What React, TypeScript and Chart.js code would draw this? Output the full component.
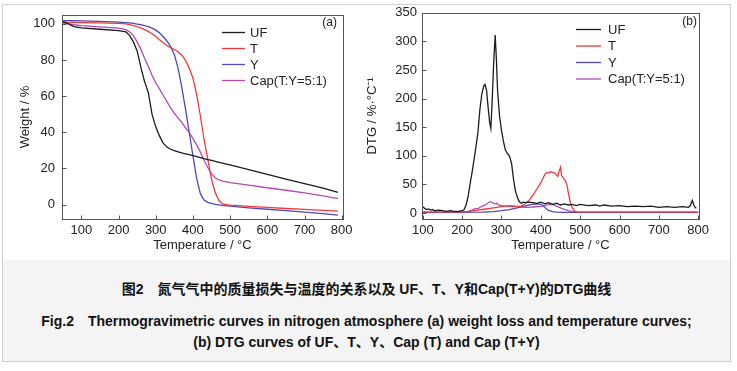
import React, { useEffect, useRef } from "react";
import { Chart, registerables } from "chart.js";
Chart.register(...registerables);

const FONT = "'Liberation Sans', Arial, Helvetica, sans-serif";

// ---------- Tick labels ----------
const tempTicks = [100, 200, 300, 400, 500, 600, 700, 800];
const weightTicks = [0, 20, 40, 60, 80, 100];
const dtgTicks = [0, 50, 100, 150, 200, 250, 300, 350];

const seriesNames = ["UF", "T", "Y", "Cap(T:Y=5:1)"];
const seriesColors = ["#1c1c1c", "#f03a3a", "#4a4ab8", "#b54ab5"];

// ---------- (a) TG curves ----------
const tgTemps = [50, 60, 80, 100, 150, 200, 220, 230, 240, 250, 260, 270, 280, 290, 300, 310, 320, 330, 340, 350, 360, 370, 380, 390, 400, 410, 420, 430, 440, 450, 460, 470, 480, 490, 500, 550, 600, 650, 700, 750, 790];
const tgUF = [101, 100.5, 98.5, 97.8, 97, 96.3, 95.5, 93.5, 90, 85, 76, 68, 62, 50, 43, 38, 34, 31.8, 30.6, 29.8, 29.2, 28.6, 28.1, 27.6, 27.1, 26.5, 26, 25.4, 24.9, 24.4, 23.9, 23.4, 22.9, 22.4, 21.9, 19.3, 16.7, 14.1, 11.6, 9.1, 6.8];
const tgT = [101.3, 101, 100.8, 100.7, 100.5, 100.3, 100, 99.5, 99, 98.5, 97.8, 96.8, 95.8, 94.5, 93, 91.2, 89.5, 88, 86.8, 85.8, 84.6, 82.8, 79.8, 75.5, 70, 61, 49, 36, 25, 14, 6.5, 2.2, 0.3, 0, -0.3, -1, -1.6, -2.2, -2.7, -3.2, -3.6];
const tgY = [101.8, 101.8, 101.7, 101.6, 101.4, 101, 100.7, 100.5, 100.2, 99.9, 99.5, 99, 98.4, 97.6, 96.5, 95, 93, 90.5, 87.5, 83, 75.5, 65, 53, 40, 27, 14.5, 6, 2.5, 1.2, 0.6, 0.1, -0.2, -0.5, -0.7, -0.9, -1.8, -2.6, -3.4, -4.2, -5, -5.8];
const tgCap = [100.5, 100.2, 99.5, 99, 98.3, 97.6, 96.8, 95.5, 93.5, 90, 86, 81, 76.5, 71.5, 67.5, 64, 60.5, 57, 53.5, 50.5, 48, 45.5, 42.5, 40, 36.5, 33, 29, 24.5, 20.5, 17, 14.8, 13.6, 12.9, 12.5, 12.1, 10.7, 9.3, 7.9, 6.4, 4.8, 3.3];

// ---------- (b) DTG curves ----------
const dtgUFTemps = [100, 105, 110, 115, 120, 125, 130, 140, 150, 160, 170, 180, 190, 200, 205, 210, 215, 220, 225, 230, 235, 240, 245, 250, 255, 258, 262, 266, 270, 273, 276, 280, 284, 287, 290, 295, 300, 305, 310, 315, 318, 322, 326, 330, 335, 340, 345, 350, 355, 360, 370, 380, 390, 400, 410, 420, 430, 440, 450, 460, 470, 480, 490, 500, 520, 540, 550, 560, 580, 600, 620, 640, 660, 680, 700, 720, 740, 760, 775, 780, 785, 790, 795];
const dtgUF = [11, 8, 6, 7, 5, 6, 4, 5, 4, 3, 4, 3, 3, 4, 6, 14, 28, 50, 70, 92, 115, 140, 180, 208, 222, 225, 215, 185, 158, 148, 190, 260, 311, 270, 215, 170, 145, 125, 110, 104, 102, 96, 85, 62, 40, 28, 20, 17, 19, 18, 19, 18, 17, 19, 16, 18, 15, 17, 14, 16, 14, 15, 13, 15, 13, 14, 12, 14, 12, 13, 11, 12, 11, 12, 10, 11, 10, 11, 10, 13, 22, 12, 8];

const dtgTTemps = [100, 200, 220, 240, 260, 280, 300, 310, 320, 330, 340, 350, 360, 370, 380, 390, 400, 405, 410, 415, 420, 425, 430, 435, 438, 443, 447, 450, 453, 458, 462, 466, 470, 475, 480, 485, 490, 500, 600, 700, 800];
const dtgT = [1.5, 2, 3, 5, 7, 9, 11, 12, 13, 12.5, 11, 12, 16, 22, 31, 42, 53, 60, 67, 71, 70, 72, 71, 70, 68, 64, 74, 80, 65, 60, 57, 50, 35, 18, 9, 4, 2, 1.5, 1.5, 1.5, 1.5];

const dtgYTemps = [100, 250, 280, 300, 320, 340, 360, 380, 390, 400, 405, 410, 415, 420, 430, 440, 460, 800];
const dtgY = [1, 1.5, 2.5, 4, 6, 9, 12.5, 15.5, 16, 15, 13, 10, 7, 4.5, 2.5, 1.5, 1, 1];

const dtgCapTemps = [100, 200, 215, 225, 235, 240, 245, 255, 265, 272, 277, 282, 288, 292, 300, 310, 320, 340, 360, 380, 400, 410, 420, 430, 440, 450, 460, 470, 480, 490, 500, 800];
const dtgCap = [1, 1.5, 3, 5, 8, 7, 10, 13, 17, 20, 18, 16, 17, 14, 13, 12, 11.5, 11, 10, 10.5, 11.5, 13, 15, 14.5, 12, 9, 6.5, 4, 2.5, 1.5, 1, 1];

function pts(xs: number[], ys: number[]) {
  return xs.map((x, i) => ({ x, y: ys[i] }));
}

const framePlugin = {
  id: "frame",
  afterDraw(chart: any, _args: any, opts: any) {
    const { ctx, chartArea: a } = chart;
    const xs = chart.scales.x;
    const ys = chart.scales.y;
    ctx.save();
    ctx.strokeStyle = "#555";
    ctx.lineWidth = 1;
    const L = Math.round(a.left) + 0.5;
    const T = Math.round(a.top) + 0.5;
    const R = Math.round(a.right) + 0.5;
    const B = Math.round(a.bottom) + 0.5;
    ctx.strokeRect(L, T, R - L, B - T);
    ctx.beginPath();
    xs.ticks.forEach((t: any) => {
      const px = Math.round(xs.getPixelForValue(t.value)) + 0.5;
      ctx.moveTo(px, B);
      ctx.lineTo(px, B - 4);
    });
    ys.ticks.forEach((t: any) => {
      const py = Math.round(ys.getPixelForValue(t.value)) + 0.5;
      ctx.moveTo(L, py);
      ctx.lineTo(L + 4, py);
    });
    ctx.stroke();

    // legend
    const lg = opts.legend;
    ctx.font = `13px ${FONT}`;
    ctx.textBaseline = "middle";
    ctx.textAlign = "left";
    chart.data.datasets.forEach((ds: any, i: number) => {
      const y = lg.y0 + i * lg.dy;
      ctx.strokeStyle = ds.borderColor;
      ctx.lineWidth = 1.3;
      ctx.beginPath();
      ctx.moveTo(lg.x0, y + 0.5);
      ctx.lineTo(lg.x1, y + 0.5);
      ctx.stroke();
      ctx.fillStyle = "#222";
      ctx.fillText(ds.label, lg.tx, y + 1);
    });
    // panel tag
    ctx.font = `12px ${FONT}`;
    ctx.textAlign = "right";
    ctx.fillStyle = "#222";
    ctx.fillText(opts.tag.text, opts.tag.x, opts.tag.y);
    ctx.restore();
  },
};

function makeConfig(p: any) {
  return {
    type: "line",
    data: { datasets: p.datasets },
    plugins: [framePlugin],
    options: {
      animation: false,
      responsive: false,
      devicePixelRatio: 1,
      layout: { padding: p.padding },
      elements: { point: { radius: 0 }, line: { borderWidth: 1.3, tension: 0 } },
      plugins: {
        legend: { display: false },
        tooltip: { enabled: false },
        frame: { legend: p.legend, tag: p.tag },
      },
      scales: {
        x: {
          type: "linear",
          min: p.xmin,
          max: p.xmax,
          grid: { display: false, drawTicks: false },
          border: { display: false },
          afterBuildTicks: (s: any) => {
            s.ticks = p.xticks.map((v: number) => ({ value: v }));
          },
          afterFit: (s: any) => {
            s.height = p.xh;
          },
          ticks: { color: "#222", padding: 4, font: { family: FONT, size: 13 }, maxRotation: 0, autoSkip: false },
          title: { display: true, text: "Temperature / °C", color: "#222", font: { family: FONT, size: 13 }, padding: { top: 0, bottom: 5 } },
        },
        y: {
          type: "linear",
          min: p.ymin,
          max: p.ymax,
          grid: { display: false, drawTicks: false },
          border: { display: false },
          afterBuildTicks: (s: any) => {
            s.ticks = p.yticks.map((v: number) => ({ value: v }));
          },
          afterFit: (s: any) => {
            s.width = p.yw;
          },
          ticks: { color: "#222", padding: p.ypad, font: { family: FONT, size: 13 }, autoSkip: false },
          title: { display: true, text: p.ytitle, color: "#222", font: { family: FONT, size: 13 }, padding: { top: p.ytpad, bottom: 0 } },
        },
      },
    },
  };
}

function ChartCanvas(props: { cfg: any; left: number; width: number; height: number }) {
  const ref = useRef<HTMLCanvasElement | null>(null);
  useEffect(() => {
    if (!ref.current) return;
    const ch = new Chart(ref.current, props.cfg);
    return () => ch.destroy();
  }, []);
  return (
    <canvas
      ref={ref}
      width={props.width}
      height={props.height}
      style={{ position: "absolute", left: props.left, top: 0, width: props.width, height: props.height }}
    />
  );
}

const cfgA = makeConfig({
  datasets: [tgUF, tgT, tgY, tgCap].map((d, i) => ({
    label: seriesNames[i],
    data: pts(tgTemps, d),
    borderColor: seriesColors[i],
    fill: false,
  })),
  padding: { left: 0, right: 22, top: 12.5, bottom: 0 },
  xmin: 48,
  xmax: 803.5,
  ymin: -8,
  ymax: 105,
  xticks: tempTicks,
  yticks: weightTicks,
  xh: 39,
  yw: 62,
  ypad: 7,
  ytpad: 17.5,
  ytitle: "Weight / %",
  legend: { x0: 222, x1: 245, tx: 250, y0: 32, dy: 16 },
  tag: { text: "(a)", x: 337, y: 23 },
});

const cfgB = makeConfig({
  datasets: [
    [dtgUFTemps, dtgUF],
    [dtgTTemps, dtgT],
    [dtgYTemps, dtgY],
    [dtgCapTemps, dtgCap],
  ].map((d, i) => ({
    label: seriesNames[i],
    data: pts(d[0], d[1]),
    borderColor: seriesColors[i],
    fill: false,
  })),
  padding: { left: 0, right: 38, top: 12.5, bottom: 0 },
  xmin: 98,
  xmax: 802,
  ymin: -10.5,
  ymax: 350,
  xticks: tempTicks,
  yticks: dtgTicks,
  xh: 39,
  yw: 57,
  ypad: 5,
  ytpad: 0,
  ytitle: "DTG / %·°C⁻¹",
  legend: { x0: 211, x1: 236, tx: 243, y0: 29, dy: 16.5 },
  tag: { text: "(b)", x: 332, y: 22 },
});

export default function App() {
  return (
    <div style={{ position: "absolute", left: 0, top: 0, width: 737, height: 371, background: "#fff", overflow: "hidden" }}>
      <div
        style={{
          position: "absolute",
          left: 2,
          top: 4,
          width: 727,
          height: 356,
          border: "1px solid #cfcfcf",
          background: "#fff",
        }}
      />
      <div style={{ position: "absolute", left: 3, top: 260, width: 727, height: 101, background: "#f4f4f4" }} />
      <ChartCanvas cfg={cfgA} left={0} width={365} height={258} />
      <ChartCanvas cfg={cfgB} left={365} width={372} height={258} />
      <div
        style={{
          position: "absolute",
          left: 2,
          width: 729,
          top: 280,
          textAlign: "center",
          fontFamily: "'Liberation Sans', Arial, 'Noto Sans CJK SC', sans-serif",
          fontWeight: "bold",
          fontSize: 14,
          lineHeight: "18px",
          color: "#111",
          whiteSpace: "nowrap",
        }}
      >
        图2{"\u3000"}氮气气中的质量损失与温度的关系以及 UF、T、Y和Cap(T+Y)的DTG曲线
      </div>
      <div
        style={{
          position: "absolute",
          left: 2,
          width: 729,
          top: 311,
          textAlign: "center",
          fontFamily: "'Liberation Sans', Arial, 'Noto Sans CJK SC', sans-serif",
          fontWeight: "bold",
          fontSize: 14,
          lineHeight: "21px",
          color: "#111",
          whiteSpace: "nowrap",
        }}
      >
        <div>Fig.2{"\u3000"}Thermogravimetric curves in nitrogen atmosphere (a) weight loss and temperature curves;</div>
        <div>(b) DTG curves of UF、T、Y、Cap (T) and Cap (T+Y)</div>
      </div>
    </div>
  );
}
